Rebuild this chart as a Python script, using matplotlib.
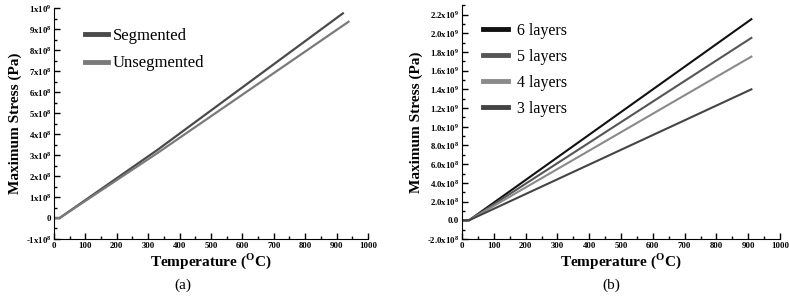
import numpy as np
import matplotlib.pyplot as plt
from matplotlib.ticker import FixedLocator, FixedFormatter, MultipleLocator

# шрифт как в статье (Times-подобный)
plt.rcParams['font.family'] = ['Liberation Serif', 'DejaVu Serif']
plt.rcParams['mathtext.fontset'] = 'custom'
plt.rcParams['mathtext.rm'] = 'Liberation Serif'
plt.rcParams['mathtext.bf'] = 'Liberation Serif:bold'

# ---- данные (a) ----
seg_T = [0, 18, 330, 920]
seg_S = [0, 0, 3.25e8, 9.75e8]
unseg_T = [0, 18, 330, 938]
unseg_S = [0, 0, 3.1e8, 9.35e8]

# ---- данные (b) ----
layers_T = [0, 22, 910]
layers6_S = [0, 0, 2.15e9]
layers5_S = [0, 0, 1.95e9]
layers4_S = [0, 0, 1.75e9]
layers3_S = [0, 0, 1.40e9]

# подписи осей
a_yticks = [-1e8, 0, 1e8, 2e8, 3e8, 4e8, 5e8, 6e8, 7e8, 8e8, 9e8, 1e9]
a_ylabels = [r'-1x10$^{\mathbf{8}}$', '0', r'1x10$^{\mathbf{8}}$', r'2x10$^{\mathbf{8}}$',
             r'3x10$^{\mathbf{8}}$', r'4x10$^{\mathbf{8}}$', r'5x10$^{\mathbf{8}}$',
             r'6x10$^{\mathbf{8}}$', r'7x10$^{\mathbf{8}}$', r'8x10$^{\mathbf{8}}$',
             r'9x10$^{\mathbf{8}}$', r'1x10$^{\mathbf{9}}$']
b_yticks = [-2e8, 0, 2e8, 4e8, 6e8, 8e8, 1.0e9, 1.2e9, 1.4e9, 1.6e9, 1.8e9, 2.0e9, 2.2e9]
b_ylabels = [r'-2.0x10$^{\mathbf{8}}$', '0.0', r'2.0x10$^{\mathbf{8}}$', r'4.0x10$^{\mathbf{8}}$',
             r'6.0x10$^{\mathbf{8}}$', r'8.0x10$^{\mathbf{8}}$', r'1.0x10$^{\mathbf{9}}$',
             r'1.2x10$^{\mathbf{9}}$', r'1.4x10$^{\mathbf{9}}$', r'1.6x10$^{\mathbf{9}}$',
             r'1.8x10$^{\mathbf{9}}$', r'2.0x10$^{\mathbf{9}}$', r'2.2x10$^{\mathbf{9}}$']
xticks = [0, 100, 200, 300, 400, 500, 600, 700, 800, 900, 1000]

fig = plt.figure(figsize=(7.89, 2.96), dpi=100)
ax1 = fig.add_axes([0.0684, 0.1926, 0.398, 0.780])
ax2 = fig.add_axes([0.5856, 0.1926, 0.403, 0.790])


def style_axes(ax, yticks, ylabels, ylim):
    ax.set_xlim(0, 1000)
    ax.set_ylim(*ylim)
    ax.spines['top'].set_visible(False)
    ax.spines['right'].set_visible(False)
    ax.xaxis.set_major_locator(FixedLocator(xticks))
    ax.xaxis.set_minor_locator(MultipleLocator(50))
    ax.yaxis.set_major_locator(FixedLocator(yticks))
    ax.yaxis.set_major_formatter(FixedFormatter(ylabels))
    step = yticks[1] - yticks[0]
    ax.yaxis.set_minor_locator(MultipleLocator(step / 2))
    ax.tick_params(direction='in', length=4, width=1, labelsize=6.3, pad=2)
    ax.tick_params(which='minor', direction='in', length=2.5, width=1)
    for lab in ax.get_xticklabels() + ax.get_yticklabels():
        lab.set_fontweight('bold')
    ax.set_ylabel('Maximum Stress (Pa)', fontsize=11, fontweight='bold', labelpad=3)
    ax.set_xlabel(r'Temperature ($^{\mathbf{O}}$C)', fontsize=11, fontweight='bold', labelpad=1)


# (a)
ax1.plot(seg_T, seg_S, color='#4a4a4a', lw=1.6, label='Segmented')
ax1.plot(unseg_T, unseg_S, color='#7a7a7a', lw=1.6, label='Unsegmented')
style_axes(ax1, a_yticks, a_ylabels, (-1e8, 1e9))
leg1 = ax1.legend(loc='upper left', bbox_to_anchor=(0.05, 0.98), frameon=False,
                  fontsize=12, handlelength=1.4, handletextpad=0.3, labelspacing=0.7)
for h in leg1.get_lines():
    h.set_linewidth(3.5)
ax1.text(0.385, -0.216, '(a)', transform=ax1.transAxes, fontsize=11)

# (b)
ax2.plot(layers_T, layers6_S, color='#111111', lw=1.5, label='6 layers')
ax2.plot(layers_T, layers5_S, color='#555555', lw=1.5, label='5 layers')
ax2.plot(layers_T, layers4_S, color='#8a8a8a', lw=1.5, label='4 layers')
ax2.plot(layers_T, layers3_S, color='#444444', lw=1.5, label='3 layers')
style_axes(ax2, b_yticks, b_ylabels, (-2e8, 2.3e9))
leg2 = ax2.legend(loc='upper left', bbox_to_anchor=(0.02, 0.985), frameon=False,
                  fontsize=11.5, handlelength=1.6, handletextpad=0.55, labelspacing=0.62)
for h in leg2.get_lines():
    h.set_linewidth(3.5)
ax2.text(0.44, -0.214, '(b)', transform=ax2.transAxes, fontsize=11)

fig.savefig('out.png', dpi=100)
